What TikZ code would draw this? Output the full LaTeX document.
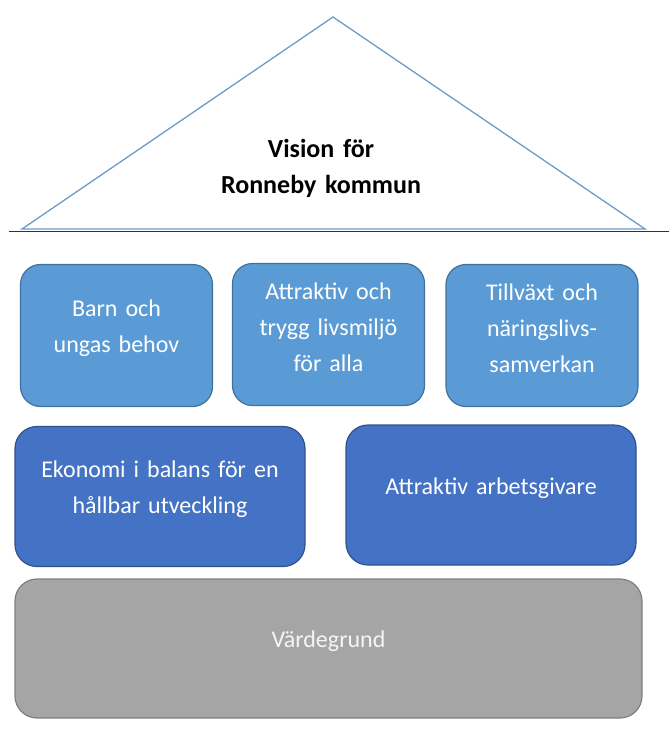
\documentclass[tikz,border=0pt]{standalone}
\usepackage{fontspec}
\setmainfont{Carlito}
\usepackage{tikz}
\definecolor{roofblue}{HTML}{6A9BCC}
\definecolor{goalblue}{HTML}{5B9BD5}
\definecolor{goaledge}{HTML}{41719C}
\definecolor{baseblue}{HTML}{4472C4}
\definecolor{baseedge}{HTML}{2F528F}
\definecolor{valuegray}{HTML}{A5A5A5}
\definecolor{valueedge}{HTML}{7F7F7F}
\tikzstyle{goal}=[draw=goaledge, fill=goalblue, text=white, text width=185pt,
    text centered, minimum width=192pt, minimum height=142pt, rounded corners=20pt,
    line width=1.2pt, font=\fontsize{24}{36}\selectfont, text height=3pt]
\tikzstyle{pillar}=[draw=baseedge, fill=baseblue, text=white, text width=280pt,
    text centered, minimum width=290pt, minimum height=140pt, rounded corners=22pt,
    line width=1.2pt, font=\fontsize{24}{36}\selectfont, text height=3pt]
\tikzstyle{ground}=[draw=valueedge, fill=valuegray, text=white!92!gray, text width=600pt,
    text centered, minimum width=627pt, minimum height=139pt, rounded corners=22pt,
    line width=1.2pt, font=\fontsize{24}{36}\selectfont, text height=3pt]
\tikzstyle{visiontext}=[text centered, text width=250pt,
    font=\fontsize{26}{36}\selectfont\bfseries]
\tikzstyle{roof}=[draw=roofblue, line width=1.3pt, line join=miter]
\tikzstyle{floor}=[draw=black!80, line width=1pt]

\begin{document}
\begin{tikzpicture}[x=1pt,y=-1pt]
    \useasboundingbox (0,0) rectangle (669,747);
    \draw[roof] (22,229) -- (333,17) -- (645,229) -- cycle;
    \draw[floor] (9,231) -- (669,231);
    \node (vision) [visiontext] at (321,168.5) {Vision för\\Ronneby kommun};
    \node (barn) [goal] at (116.5,335.5) {Barn och\\ungas behov};
    \path (barn.center)+(212,-1) node (livsmiljo) [goal]
    {Attraktiv och\\trygg livsmiljö\\för alla};
    \path (barn.center)+(425.5,0) node (tillvaxt) [goal]
    {Tillväxt och\\näringslivs-\\samverkan};
    \path (barn.center)+(43.5,161) node (ekonomi) [pillar]
    {Ekonomi i balans för en\\hållbar utveckling};
    \path (ekonomi.center)+(331,-1.5) node (arbetsgivare) [pillar]
    {Attraktiv arbetsgivare};
    \node (vardegrund) [ground] at (328.5,648.5) {Värdegrund};
\end{tikzpicture}
\end{document}
